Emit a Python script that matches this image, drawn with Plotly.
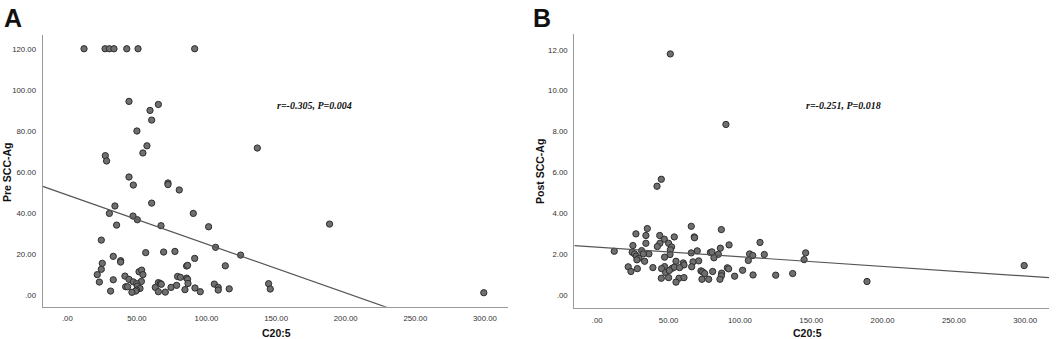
import plotly.graph_objects as go

# ---------------- data ----------------
# Panel A: C20:5 vs Pre SCC-Ag
xa = [12.0, 27.1, 30.2, 33.5, 42.7, 50.8, 91.5,
      44.3, 65.4, 59.4, 60.6, 50.0, 57.2, 136.5, 54.3, 27.3, 28.2, 44.3, 72.3, 72.3,
      47.4, 80.4, 60.6, 34.2, 30.2, 90.5, 47.2, 50.3, 35.4, 67.3, 101.5, 188.4, 24.4,
      106.5, 56.3, 69.2, 77.3, 124.5, 33.0, 91.5, 38.3, 38.3, 25.1, 85.7, 86.4, 113.5,
      24.4, 51.5, 53.4, 21.5, 54.3, 41.4, 79.2, 81.2, 85.7, 86.4, 44.3, 33.0, 47.4,
      53.2, 23.0, 49.8, 65.4, 66.8, 67.5, 86.7, 105.6, 144.6, 41.9, 43.3, 50.3, 63.2,
      74.5, 78.5, 108.4, 52.2, 91.7, 116.3, 145.8, 49.8, 84.5, 108.4, 31.1, 49.1, 46.4,
      65.4, 70.4, 95.5, 299.2]
ya = [120, 120, 120, 120, 120, 120, 120,
      94.4, 92.9, 90.0, 85.3, 80.0, 72.8, 71.7, 69.3, 68.0, 65.4, 57.6, 54.7, 53.9,
      53.7, 51.3, 44.9, 43.5, 39.9, 39.9, 38.6, 36.8, 34.2, 33.9, 33.4, 34.7, 26.9,
      23.4, 20.8, 21.1, 21.4, 19.6, 19.0, 18.0, 16.9, 16.2, 15.6, 14.3, 14.6, 14.4,
      12.7, 11.5, 12.3, 10.1, 10.1, 9.4, 9.2, 8.8, 8.4, 7.8, 7.8, 7.6, 6.6,
      6.8, 6.5, 5.7, 6.2, 5.8, 5.4, 5.8, 5.5, 5.7, 4.2, 4.2, 4.5, 3.9,
      3.9, 4.9, 3.9, 3.4, 3.6, 3.2, 3.1, 2.6, 2.8, 2.6, 2.1, 2.1, 1.5,
      1.8, 1.6, 1.8, 1.3]

# Panel B: C20:5 vs Post SCC-Ag
xb = [51.2, 90.2, 44.9, 41.9, 299.3, 189.1, 65.9, 35.1, 87.0, 27.1, 34.1, 43.8, 54.0,
      68.0, 68.2, 47.0, 114.1, 34.1, 43.9, 50.0, 25.0, 42.1, 52.1, 92.4, 86.3, 51.2,
      31.1, 70.1, 11.9, 24.5, 65.9, 79.3, 80.4, 146.1, 26.2, 36.2, 32.3, 51.0, 84.9,
      106.8, 117.1, 109.0, 27.4, 47.2, 81.8, 29.2, 27.8, 71.1, 33.2, 55.2, 67.1, 105.9,
      145.0, 60.3, 60.8, 66.2, 47.2, 39.0, 21.7, 45.1, 52.6, 54.0, 57.7, 28.1, 91.2,
      92.1, 101.9, 23.6, 72.7, 73.9, 80.9, 47.9, 50.5, 75.3, 87.2, 109.2, 87.0, 125.1,
      137.0, 96.3, 44.9, 50.0, 57.3, 60.8, 73.4, 78.1, 86.0, 55.2]
yb = [11.80, 8.35, 5.67, 5.33, 1.45, 0.67, 3.37, 3.26, 3.21, 3.00, 2.92, 2.92, 2.85,
      2.85, 2.81, 2.74, 2.58, 2.54, 2.54, 2.54, 2.43, 2.38, 2.36, 2.46, 2.30, 2.22,
      2.18, 2.17, 2.15, 2.10, 2.07, 2.09, 2.12, 2.07, 2.02, 2.02, 2.02, 1.99, 2.00,
      2.02, 1.99, 1.94, 1.91, 1.86, 1.83, 1.81, 1.73, 1.68, 1.66, 1.66, 1.63, 1.70,
      1.74, 1.58, 1.48, 1.39, 1.40, 1.35, 1.39, 1.30, 1.32, 1.37, 1.35, 1.30, 1.34,
      1.29, 1.22, 1.16, 1.19, 1.14, 1.16, 1.11, 1.21, 1.06, 1.08, 0.99, 0.95, 0.98,
      1.06, 0.93, 0.83, 0.86, 0.83, 0.86, 0.78, 0.78, 0.78, 0.64]

# linear fit lines: [intercept, slope]
fit_a = [48.8, -0.238]
fit_b = [2.354, -0.00472]

x_tickvals = [0, 50, 100, 150, 200, 250, 300]
x_ticktext = [".00", "50.00", "100.00", "150.00", "200.00", "250.00", "300.00"]
ya_tickvals = [0, 20, 40, 60, 80, 100, 120]
ya_ticktext = [".00", "20.00", "40.00", "60.00", "80.00", "100.00", "120.00"]
yb_tickvals = [0, 2, 4, 6, 8, 10, 12]
yb_ticktext = [".00", "2.00", "4.00", "6.00", "8.00", "10.00", "12.00"]

xa_range = [-17.7, 316.6]
xb_range = [-16.1, 316.7]
ya_range = [-5.5, 126.7]
yb_range = [-0.64, 12.76]

stats_a = "r=-0.305, P=0.004"
stats_b = "r=-0.251, P=0.018"

# ---------------- figure ----------------
W, H = 1059, 339
fig = go.Figure()

marker = dict(size=6.3, color="#6f6f6f", line=dict(color="#2e2e2e", width=1))

fig.add_trace(go.Scatter(x=xa, y=ya, mode="markers", marker=marker,
                         xaxis="x", yaxis="y", showlegend=False))
fig.add_trace(go.Scatter(x=xa_range, y=[fit_a[0] + fit_a[1] * v for v in xa_range],
                         mode="lines", line=dict(color="#555555", width=1.2),
                         xaxis="x", yaxis="y", showlegend=False))
fig.add_trace(go.Scatter(x=xb, y=yb, mode="markers", marker=marker,
                         xaxis="x2", yaxis="y2", showlegend=False))
fig.add_trace(go.Scatter(x=xb_range, y=[fit_b[0] + fit_b[1] * v for v in xb_range],
                         mode="lines", line=dict(color="#555555", width=1.2),
                         xaxis="x2", yaxis="y2", showlegend=False))

tickfont = dict(family="Arial, Liberation Sans, sans-serif", size=7.8, color="#333333")
axis_common = dict(showgrid=False, zeroline=False, showline=True, linecolor="#9a9a9a",
                   linewidth=1.3, ticks="", tickfont=tickfont, tickmode="array")

fig.update_layout(
    width=W, height=H, autosize=False,
    margin=dict(l=0, r=0, t=0, b=0),
    paper_bgcolor="white", plot_bgcolor="white",
    xaxis=dict(domain=[42.7 / W, 508 / W], range=xa_range, tickvals=x_tickvals,
               ticktext=x_ticktext, anchor="y", ticklabelstandoff=4, **axis_common),
    yaxis=dict(domain=[(H - 306.7) / H, (H - 35) / H], range=ya_range, tickvals=ya_tickvals,
               ticktext=ya_ticktext, anchor="x", ticklabelstandoff=4, **axis_common),
    xaxis2=dict(domain=[574.3 / W, 1049 / W], range=xb_range, tickvals=x_tickvals,
                ticktext=x_ticktext, anchor="y2", ticklabelstandoff=4, **axis_common),
    yaxis2=dict(domain=[(H - 308.3) / H, (H - 34.3) / H], range=yb_range, tickvals=yb_tickvals,
                ticktext=yb_ticktext, anchor="x2", ticklabelstandoff=4, **axis_common),
)

title_font = dict(family="Arial, Liberation Sans, sans-serif", size=10.5, color="#111111")
ann = []
# panel letters
ann.append(dict(text="<b>A</b>", x=2 / W, y=1 - 2 / H, xref="paper", yref="paper",
                xanchor="left", yanchor="top", showarrow=False,
                font=dict(family="Arial, Liberation Sans, sans-serif", size=25, color="#111111")))
ann.append(dict(text="<b>B</b>", x=531 / W, y=1 - 2 / H, xref="paper", yref="paper",
                xanchor="left", yanchor="top", showarrow=False,
                font=dict(family="Arial, Liberation Sans, sans-serif", size=25, color="#111111")))
# axis titles
ann.append(dict(text="<b>C20:5</b>", x=277 / W, y=(H - 333) / H, xref="paper", yref="paper",
                xanchor="center", yanchor="middle", showarrow=False, font=title_font))
ann.append(dict(text="<b>C20:5</b>", x=807 / W, y=(H - 333) / H, xref="paper", yref="paper",
                xanchor="center", yanchor="middle", showarrow=False, font=title_font))
ann.append(dict(text="<b>Pre SCC-Ag</b>", x=7 / W, y=(H - 172) / H, xref="paper", yref="paper",
                xanchor="center", yanchor="middle", textangle=-90, showarrow=False,
                font=title_font))
ann.append(dict(text="<b>Post SCC-Ag</b>", x=540 / W, y=(H - 172) / H, xref="paper", yref="paper",
                xanchor="center", yanchor="middle", textangle=-90, showarrow=False,
                font=title_font))
# statistics
stat_font = dict(family="Liberation Serif, Times New Roman, serif", size=10, color="#111111")
ann.append(dict(text="<b><i>" + stats_a + "</i></b>", x=314 / W, y=(H - 105) / H,
                xref="paper", yref="paper", xanchor="center", yanchor="middle",
                showarrow=False, font=stat_font))
ann.append(dict(text="<b><i>" + stats_b + "</i></b>", x=843 / W, y=(H - 105) / H,
                xref="paper", yref="paper", xanchor="center", yanchor="middle",
                showarrow=False, font=stat_font))
fig.update_layout(annotations=ann)

fig.write_html("out.html", config={"displayModeBar": False},
               post_script="document.body.style.margin='0';document.body.style.overflow='hidden';")
